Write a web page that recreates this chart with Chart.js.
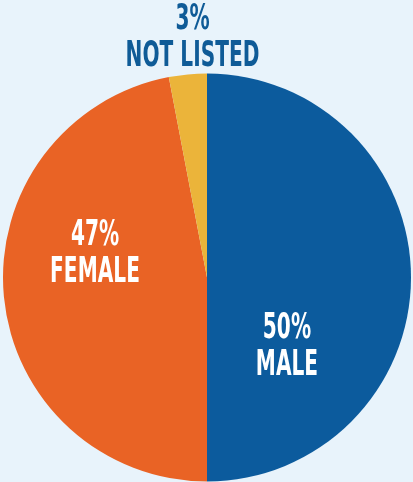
<!DOCTYPE html>
<html>
<head>
<meta charset="utf-8">
<script src="https://cdn.jsdelivr.net/npm/chart.js@4"></script>
<style>
  html, body { margin: 0; padding: 0; background: #e8f3fb; }
  #wrap { width: 413px; height: 482px; }
</style>
</head>
<body>
<div id="wrap"><canvas id="genderChart"></canvas></div>
<script>
// data
const categories = ["MALE", "FEMALE", "NOT LISTED"];
const shares = [50, 47, 3];

const sliceColors = ["#0c5b9d", "#e96325", "#ebb43a"];
const labelColors = ["#ffffff", "#ffffff", "#0f5b97"];
// label spot for each slice, in units of the pie radius from its centre (baseline of the first line)
const labelSpots = [[0.392, 0.297], [-0.549, -0.159], [-0.071, -1.218]];

// draws "NN%" and the category name, condensed like the original
const sliceLabels = {
  id: "sliceLabels",
  afterDatasetsDraw(chart) {
    const ctx = chart.ctx;
    const arcs = chart.getDatasetMeta(0).data;
    ctx.save();
    ctx.font = "bold 35px 'Liberation Sans Narrow', 'DejaVu Sans Condensed', sans-serif";
    ctx.textAlign = "center";
    ctx.textBaseline = "alphabetic";
    arcs.forEach((arc, i) => {
      const r = arc.outerRadius;
      const x = arc.x + labelSpots[i][0] * r;
      const y = arc.y + labelSpots[i][1] * r;
      ctx.fillStyle = labelColors[i];
      [shares[i] + "%", categories[i]].forEach((line, k) => {
        ctx.save();
        ctx.translate(x, y + k * 37);
        ctx.scale(0.64, 1);
        ctx.fillText(line, 0, 0);
        ctx.restore();
      });
    });
    ctx.restore();
  }
};

new Chart(document.getElementById("genderChart"), {
  type: "pie",
  data: {
    labels: categories,
    datasets: [{
      data: shares,
      backgroundColor: sliceColors,
      borderWidth: 0
    }]
  },
  options: {
    responsive: true,
    maintainAspectRatio: false,
    animation: false,
    layout: { padding: { top: 73, left: 3, right: 2, bottom: 0 } },
    plugins: {
      legend: { display: false },
      tooltip: { enabled: false }
    }
  },
  plugins: [sliceLabels]
});
</script>
</body>
</html>
